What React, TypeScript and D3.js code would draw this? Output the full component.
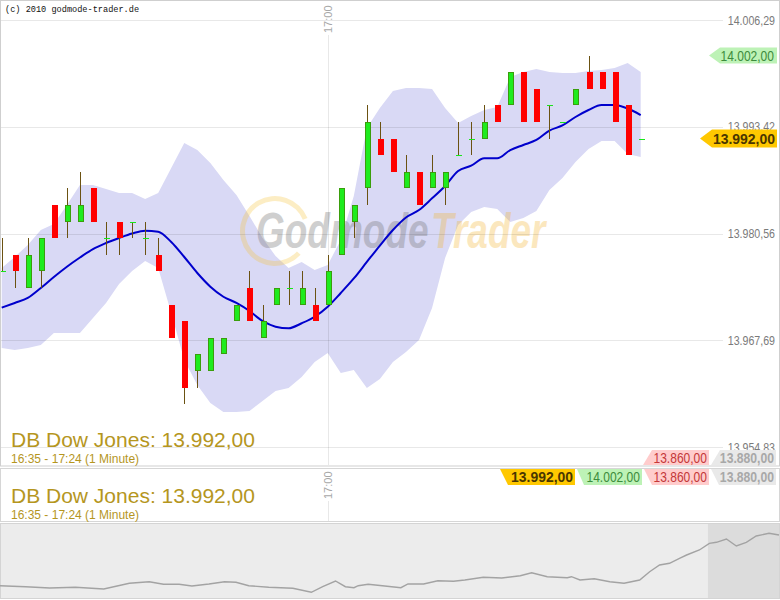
import React from 'react';
import * as d3 from 'd3';

// ---------- data ----------
const instrument = 'DB Dow Jones';
const periodLabel = '16:35 - 17:24 (1 Minute)';
const copyright = '(c) 2010 godmode-trader.de';
const startHour = 16;
const startMinute = 35;

const opens = [13976, 13978, 13974, 13976, 13984, 13982, 13982, 13986, 13980, 13982,
  13982, 13980, 13978, 13972, 13970, 13964, 13964, 13966, 13970, 13974,
  13968, 13972, 13974, 13972, 13972, 13972, 13978, 13982, 13986, 13992,
  13992, 13986, 13988, 13986, 13986, 13990, 13992, 13992, 13996, 13996,
  14000, 13998, 13996, 13994, 13996, 14000, 14000, 14000, 13996, 13992];
const highs = [13980, 13978, 13980, 13980, 13984, 13986, 13988, 13986, 13982, 13982,
  13982, 13982, 13980, 13972, 13970, 13966, 13968, 13968, 13972, 13976,
  13972, 13974, 13976, 13976, 13974, 13978, 13986, 13984, 13996, 13994,
  13992, 13990, 13988, 13990, 13988, 13994, 13994, 13996, 13996, 14000,
  14000, 13998, 13996, 13994, 13998, 14002, 14000, 14000, 13996, 13992];
const lows = [13976, 13974, 13974, 13974, 13980, 13980, 13982, 13982, 13978, 13978,
  13980, 13978, 13976, 13968, 13960, 13962, 13964, 13966, 13970, 13970,
  13968, 13972, 13972, 13972, 13970, 13972, 13978, 13980, 13984, 13990,
  13988, 13986, 13984, 13986, 13984, 13990, 13990, 13992, 13994, 13996,
  13994, 13994, 13992, 13994, 13996, 13998, 13998, 13994, 13990, 13992];
const closes = [13976, 13976, 13978, 13980, 13980, 13984, 13984, 13982, 13980, 13980,
  13982, 13980, 13976, 13968, 13962, 13966, 13968, 13968, 13972, 13970,
  13970, 13974, 13974, 13974, 13970, 13976, 13986, 13984, 13994, 13990,
  13988, 13988, 13984, 13988, 13988, 13990, 13992, 13994, 13994, 14000,
  13994, 13994, 13996, 13994, 13998, 13998, 13998, 13994, 13990, 13992];

const movingAverage = [13971.62, 13972.19, 13972.79, 13973.99, 13975.32, 13976.56, 13977.67, 13978.69, 13979.42, 13980.02,
  13980.56, 13980.90, 13980.78, 13979.54, 13977.73, 13975.80, 13974.15, 13972.94, 13972.19, 13971.22,
  13970.02, 13969.33, 13969.14, 13969.74, 13970.53, 13971.74, 13973.39, 13975.14, 13977.13, 13979.11,
  13980.98, 13982.49, 13983.39, 13984.80, 13986.29, 13988.09, 13988.73, 13989.62, 13989.62, 13990.62,
  13991.23, 13991.83, 13992.97, 13993.58, 13994.60, 13995.44, 13996.05, 13996.05, 13995.62, 13994.84];
const bandUpper = [13976.40, 13977.73, 13979.17, 13980.98, 13981.70, 13983.99, 13986.41, 13986.41, 13985.92, 13985.44,
  13985.44, 13984.72, 13985.44, 13988.45, 13991.47, 13990.62, 13989.06, 13987.01, 13985.20, 13982.67,
  13980.02, 13977.85, 13976.40, 13977.13, 13976.16, 13976.76, 13979.78, 13985.08, 13993.27, 13995.68,
  13997.73, 13998.10, 13998.10, 13997.97, 13995.68, 13993.88, 13994.72, 13995.44, 13995.81, 13999.42,
  14000.02, 14000.38, 14000.02, 13999.90, 13999.90, 14000.14, 14000.26, 14000.51, 14001.11, 14000.02];
const bandLower = [13966.76, 13966.52, 13966.76, 13967.12, 13968.57, 13968.57, 13968.57, 13970.38, 13972.18, 13974.47,
  13976.04, 13977.25, 13976.40, 13970.98, 13965.31, 13962.30, 13960.13, 13959.05, 13959.05, 13959.17,
  13960.37, 13961.58, 13961.94, 13963.27, 13965.07, 13966.16, 13963.75, 13964.11, 13961.94, 13963.03,
  13965.07, 13966.28, 13967.73, 13971.58, 13977.61, 13981.58, 13983.15, 13983.75, 13983.51, 13981.95,
  13982.43, 13983.27, 13985.80, 13987.25, 13989.18, 13990.74, 13991.71, 13991.71, 13990.14, 13989.78];

const yTicks = [14006.29, 13993.42, 13980.56, 13967.69, 13954.83];
const timeTick = '17:00';

const lastPrice = 13992;
const sessionHigh = 14002;
const sessionLow = 13860;
const previousClose = 13880;

// navigator (whole day, minutes from start)
const navMinutes = [0, 18, 35, 53, 73, 91, 105, 115, 126, 135, 147, 158, 166, 175, 189, 206, 219, 227, 236, 243,
  249, 252, 259, 269, 282, 287, 298, 308, 319, 327, 340, 353, 366, 374, 385, 399, 402, 408, 418, 429,
  439, 450, 457, 464, 471, 478, 483, 492, 499, 504, 511, 518, 525, 532, 541, 548];
const navValues = [13894.6, 13892.6, 13890, 13891.4, 13888, 13899.4, 13902.6, 13897.4, 13897.4, 13894,
  13898, 13902.6, 13901.4, 13894.6, 13891.4, 13889.4, 13881.4, 13892.6, 13904, 13892.6,
  13890.6, 13894.6, 13897.4, 13894.6, 13890.6, 13898, 13898, 13904.6, 13903.4, 13906,
  13911.4, 13910, 13914.6, 13920.6, 13912.6, 13910.6, 13912.6, 13906, 13908.6, 13902.6,
  13899.4, 13906, 13922.6, 13936, 13939.4, 13949.4, 13956, 13966, 13979.4, 13981.4,
  13988, 13974, 13981.4, 13994, 13999.4, 13996];
const navTotalMinutes = 548;
const navWindowStart = 498;

// ---------- helpers ----------
const de = d3.formatLocale({ decimal: ',', thousands: '.', grouping: [3], currency: ['', '€'] });
const fmt = de.format(',.2f');
const timeFmt = d3.timeFormat('%H:%M');
const times = closes.map((_, i) => timeFmt(new Date(2010, 0, 1, startHour, startMinute + i)));

const W = 780;
const H = 600;
const SANS = '"Liberation Sans", Arial, sans-serif';

const x = d3.scaleLinear().domain([0, closes.length - 1]).range([1.7, 640.7]);
const y = d3.scaleLinear().domain([yTicks[4], yTicks[0]]).range([447, 20]);
const nx = d3.scaleLinear().domain([0, navTotalMinutes]).range([0, 779]);
const ny = d3.scaleLinear().domain([13870, 14010]).range([598, 528]);

const bandArea = d3.area<number>()
  .x((_, i) => x(i))
  .y0((_, i) => y(bandLower[i]))
  .y1((_, i) => y(bandUpper[i]));
const maLine = d3.line<number>().x((_, i) => x(i)).y((d) => y(d)).curve(d3.curveMonotoneX);
const navLine = d3.line<number>().x((_, i) => nx(navMinutes[i])).y((d) => ny(d));

const arrowBox = (xp: number, xl: number, xr: number, yt: number, yb: number) =>
  `M${xp},${(yt + yb) / 2}L${xl},${yt}L${xr},${yt}L${xr},${yb}L${xl},${yb}Z`;
const slantBox = (xtl: number, xbl: number, xr: number, yt: number, yb: number) =>
  `M${xtl},${yt}L${xr},${yt}L${xr},${yb}L${xbl},${yb}Z`;

const logoArc = d3.arc()({ innerRadius: 30, outerRadius: 35, startAngle: 2.32, endAngle: 1.19 + Math.PI * 2 } as any) as string;

const tickIdx = times.indexOf(timeTick);

// condensed text (narrow glyphs like the original)
function NText(props: { x: number; y: number; size: number; sx: number; fill: string; bold?: boolean; anchor?: string; children: React.ReactNode }) {
  const { x: tx, y: ty, size, sx, fill, bold, anchor, children } = props;
  return (
    <text transform={`translate(${tx},${ty}) scale(${sx},1)`} fontSize={size} fill={fill}
      fontWeight={bold ? 'bold' : 'normal'} textAnchor={anchor || 'start'}>{children}</text>
  );
}

export default function App() {
  const yLast = y(lastPrice);
  const yHigh = y(sessionHigh);
  const tx = Math.round(x(tickIdx)) + 0.5;
  return (
    <svg width={W} height={H} style={{ position: 'absolute', left: 0, top: 0, background: '#fff' }}
      fontFamily={SANS}>
      <defs>
        <clipPath id="plot"><rect x={1} y={1} width={777} height={464} /></clipPath>
      </defs>

      {/* panel 1 frame */}
      <rect x={0.5} y={0.5} width={779} height={465.5} fill="#fff" stroke="#cfcfcf" />

      <g clipPath="url(#plot)">
        <path d={bandArea(closes) || ''} fill="#d9d9f5" />
        {/* watermark */}
        <g transform="translate(275,231)">
          <path d={logoArc} fill="#f5c23a" opacity={0.3} />
        </g>
        <g opacity={0.34}>
          <text transform="translate(256,248) scale(0.74,1)" fontSize={50} fontWeight="bold" fontStyle="italic" fill="#757575">Godmode</text>
        </g>
        <g opacity={0.3}>
          <text transform="translate(431,248) scale(0.74,1)" fontSize={50} fontWeight="bold" fontStyle="italic" fill="#f2b22a">Trader</text>
        </g>

        {/* grid */}
        {yTicks.map((t) => (
          <line key={t} x1={0} x2={723} y1={Math.round(y(t)) + 0.5} y2={Math.round(y(t)) + 0.5}
            stroke="#000" strokeOpacity={0.09} />
        ))}
        <line x1={tx} x2={tx} y1={35} y2={466} stroke="#000" strokeOpacity={0.09} />

        <path d={maLine(movingAverage) || ''} fill="none" stroke="#0000cc" strokeWidth={2} />

        {/* candles */}
        {closes.map((c, i) => {
          const o = opens[i];
          const h = highs[i];
          const l = lows[i];
          const px = Math.round(x(i));
          const els: React.ReactNode[] = [];
          if (h > l) {
            els.push(<line key="w" x1={px + 0.5} x2={px + 0.5} y1={Math.round(y(h))} y2={Math.round(y(l))}
              stroke="#6b5212" />);
          }
          if (o === c) {
            const yy = Math.round(y(c)) + 0.5;
            els.push(<line key="d" x1={px - 2} x2={px + 4} y1={yy} y2={yy} stroke="#19e619" />);
          } else if (c > o) {
            const yt = Math.round(y(c));
            const yb = Math.round(y(o));
            els.push(<rect key="b" x={px - 1.5} y={yt + 0.5} width={5} height={yb - yt - 1}
              fill="#1eec1e" stroke="#3a9e0c" />);
          } else {
            const yt = Math.round(y(o));
            const yb = Math.round(y(c));
            els.push(<rect key="b" x={px - 2} y={yt} width={6} height={yb - yt} fill="#ff0000" />);
          }
          return <g key={i}>{els}</g>;
        })}
      </g>

      {/* copyright */}
      <text x={5} y={12} fontFamily='"Liberation Mono", "DejaVu Sans Mono", monospace' fontSize={8.6}
        fill="#111">{copyright}</text>

      {/* time tick label */}
      <text transform={`translate(${tx + 3.5},33) rotate(-90)`} fontSize={11} fill="#a8a8a8">{timeTick}</text>

      {/* y axis labels */}
      {yTicks.map((t) => (
        <NText key={t} x={775} y={y(t) + 4.5} size={12.5} sx={0.85} fill="#7a7a7a" anchor="end">{fmt(t)}</NText>
      ))}

      {/* price markers */}
      <path d={arrowBox(709, 720, 777, yHigh - 8, yHigh + 8)} fill="#bdf2b6" />
      <NText x={774} y={yHigh + 5} size={14} sx={0.86} fill="#3c8c3c" anchor="end">{fmt(sessionHigh)}</NText>
      <path d={arrowBox(700, 712, 777, yLast - 9, yLast + 9)} fill="#ffc800" />
      <NText x={775} y={yLast + 5.5} size={15} sx={0.93} fill="#4a3600" bold anchor="end">{fmt(lastPrice)}</NText>

      {/* panel 1 bottom boxes */}
      <path d={slantBox(652, 643, 709, 450, 465)} fill="#ffcccc" />
      <NText x={707} y={463} size={14} sx={0.86} fill="#c43838" anchor="end">{fmt(sessionLow)}</NText>
      <path d={slantBox(720, 711, 776, 450, 465)} fill="#e9e9e9" />
      <NText x={774} y={463} size={14} sx={0.87} fill="#a8a8a8" bold anchor="end">{fmt(previousClose)}</NText>

      {/* titles panel 1 */}
      <text x={11} y={447} fontSize={21} fill="#b5961e">{`${instrument}: ${fmt(lastPrice)}`}</text>
      <NText x={11} y={463} size={13.5} sx={0.89} fill="#b5961e">{periodLabel}</NText>

      {/* panel 2 */}
      <rect x={0.5} y={468.5} width={779} height={53} fill="#fff" stroke="#d6d6d6" />
      <line x1={tx} x2={tx} y1={501} y2={521} stroke="#000" strokeOpacity={0.09} />
      <text transform={`translate(${tx + 3.5},499) rotate(-90)`} fontSize={11} fill="#a8a8a8">{timeTick}</text>

      <path d={slantBox(500, 508, 575, 469, 485)} fill="#ffc800" />
      <NText x={573} y={482} size={14.5} sx={0.96} fill="#4a3600" bold anchor="end">{fmt(lastPrice)}</NText>
      <path d={slantBox(577, 584, 642, 469, 485)} fill="#bdf2b6" />
      <NText x={640} y={482} size={14} sx={0.86} fill="#3c8c3c" anchor="end">{fmt(sessionHigh)}</NText>
      <path d={slantBox(644, 652, 709, 469, 485)} fill="#ffcccc" />
      <NText x={707} y={482} size={14} sx={0.86} fill="#c43838" anchor="end">{fmt(sessionLow)}</NText>
      <path d={slantBox(711, 719, 776, 469, 485)} fill="#e9e9e9" />
      <NText x={774} y={482} size={14} sx={0.87} fill="#a8a8a8" bold anchor="end">{fmt(previousClose)}</NText>

      <text x={11} y={503} fontSize={21} fill="#b5961e">{`${instrument}: ${fmt(lastPrice)}`}</text>
      <NText x={11} y={519} size={13.5} sx={0.89} fill="#b5961e">{periodLabel}</NText>

      {/* navigator */}
      <rect x={0.5} y={523.5} width={779} height={75} fill="#ececec" stroke="#d4d4d4" />
      <rect x={nx(navWindowStart)} y={524} width={779 - nx(navWindowStart)} height={74} fill="#dcdcdc" />
      <path d={navLine(navValues) || ''} fill="none" stroke="#a3a3a3" strokeWidth={1.4} />
    </svg>
  );
}
